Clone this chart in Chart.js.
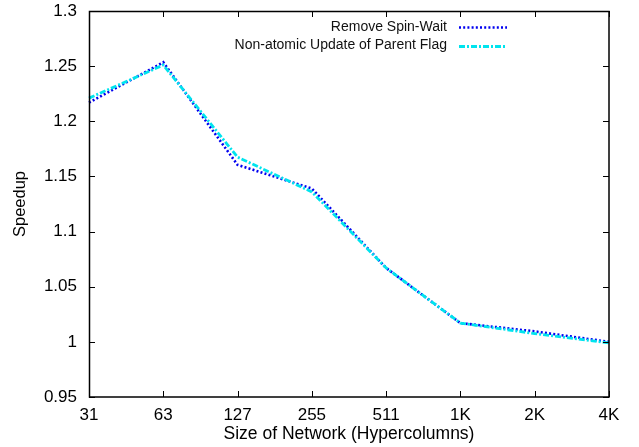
<!DOCTYPE html>
<html>
<head>
<meta charset="utf-8">
<script src="https://cdn.jsdelivr.net/npm/chart.js@4"></script>
<style>
  html, body { margin: 0; padding: 0; background: #fff; }
  #wrap { width: 639px; height: 447px; }
</style>
</head>
<body>
<div id="wrap"><canvas id="c" width="639" height="447"></canvas></div>
<script>
// Network sizes (hypercolumns) along the x axis
const networkSizes = ['31', '63', '127', '255', '511', '1K', '2K', '4K'];
// Speedup for each optimisation
const removeSpinWait = [1.217, 1.2535, 1.1605, 1.139, 1.067, 1.017, 1.0095, 1.0];
const nonAtomicParentFlag = [1.221, 1.251, 1.1675, 1.136, 1.067, 1.017, 1.0075, 0.999];
const seriesNames = ['Remove Spin-Wait', 'Non-atomic Update of Parent Flag'];
// Y axis range and step
const yMin = 0.95, yMax = 1.3, yStep = 0.05;

const FONT = '"Liberation Sans", Arial, Helvetica, sans-serif';

// Frame with inward tick marks on all four sides, plus a keyed legend
const framePlugin = {
  id: 'frame',
  afterDatasetsDraw(chart) {
    const { ctx, chartArea: a, scales } = chart;
    const tl = 6;
    ctx.save();
    ctx.strokeStyle = '#000';
    ctx.lineWidth = 1;
    const xs = scales.x, ys = scales.y;
    ctx.beginPath();
    xs.ticks.forEach((t, i) => {
      const px = Math.round(xs.getPixelForTick(i)) + 0.5;
      ctx.moveTo(px, a.bottom); ctx.lineTo(px, a.bottom - tl);
      ctx.moveTo(px, a.top); ctx.lineTo(px, a.top + tl);
    });
    ys.ticks.forEach((t, i) => {
      const py = Math.round(ys.getPixelForTick(i)) + 0.5;
      ctx.moveTo(a.left, py); ctx.lineTo(a.left + tl, py);
      ctx.moveTo(a.right, py); ctx.lineTo(a.right - tl, py);
    });
    ctx.stroke();
    ctx.lineWidth = 1.5;
    ctx.strokeRect(Math.round(a.left) + 0.5, Math.round(a.top) + 0.5,
                   Math.round(a.right - a.left) - 0.5, Math.round(a.bottom - a.top) - 0.5);

    // legend: right-aligned text followed by a line sample
    const textRight = 447, sx0 = 459, sx1 = 507;
    const rows = [a.top + 16, a.top + 34.5];
    ctx.font = '14px ' + FONT;
    ctx.textAlign = 'right';
    ctx.textBaseline = 'middle';
    ctx.fillStyle = '#111';
    chart.data.datasets.forEach((ds, i) => {
      const y = rows[i];
      ctx.fillText(ds.label, textRight, y);
      ctx.save();
      ctx.strokeStyle = ds.borderColor;
      ctx.lineWidth = ds.borderWidth;
      ctx.setLineDash(ds.borderDash);
      ctx.beginPath();
      ctx.moveTo(sx0, Math.round(y) + 0.5);
      ctx.lineTo(sx1, Math.round(y) + 0.5);
      ctx.stroke();
      ctx.restore();
    });
    ctx.restore();
  }
};

new Chart(document.getElementById('c'), {
  type: 'line',
  data: {
    labels: networkSizes,
    datasets: [
      {
        label: seriesNames[0],
        data: removeSpinWait,
        borderColor: '#0000f0',
        borderWidth: 2.6,
        borderDash: [2, 2.2],
        pointRadius: 0,
        tension: 0,
        fill: false,
        order: 2
      },
      {
        label: seriesNames[1],
        data: nonAtomicParentFlag,
        borderColor: '#00e4ee',
        borderWidth: 2.8,
        borderDash: [6, 2, 2, 2],
        pointRadius: 0,
        tension: 0,
        fill: false,
        order: 1
      }
    ]
  },
  options: {
    responsive: false,
    animation: false,
    devicePixelRatio: 1,
    layout: { padding: { top: 11, right: 30, left: 0, bottom: 0 } },
    plugins: { legend: { display: false }, tooltip: { enabled: false } },
    scales: {
      x: {
        type: 'category',
        offset: false,
        grid: { display: false, drawTicks: false },
        border: { display: false },
        ticks: { color: '#000', font: { family: FONT, size: 17 }, padding: 8, maxRotation: 0, autoSkip: false },
        title: {
          display: true,
          text: 'Size of Network (Hypercolumns)',
          color: '#000',
          font: { family: FONT, size: 17.5 },
          padding: { top: 0, bottom: 2 }
        },
        afterFit(scale) { scale.height = 50; scale.paddingLeft = 0; scale.paddingRight = 0; }
      },
      y: {
        min: yMin,
        max: yMax,
        grid: { display: false, drawTicks: false },
        border: { display: false },
        ticks: {
          stepSize: yStep,
          color: '#000',
          font: { family: FONT, size: 17 },
          padding: 12,
          callback: (v) => String(Number(Number(v).toFixed(2)))
        },
        title: {
          display: true,
          text: 'Speedup',
          color: '#000',
          font: { family: FONT, size: 16.5 },
          padding: { top: 11, bottom: 0 }
        },
        afterFit(scale) { scale.width = 89; scale.paddingTop = 0; scale.paddingBottom = 0; }
      }
    }
  },
  plugins: [framePlugin]
});
</script>
</body>
</html>
